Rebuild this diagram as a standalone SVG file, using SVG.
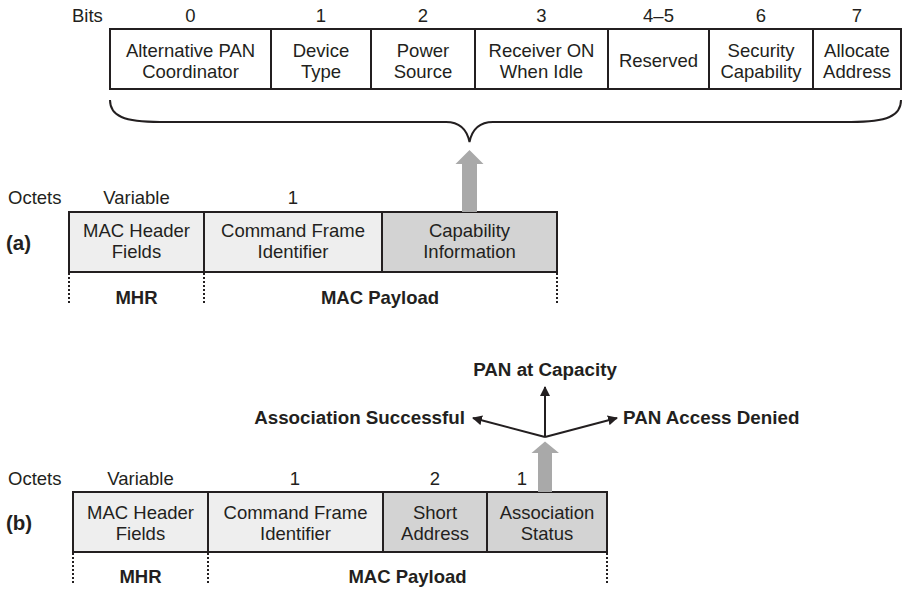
<svg xmlns="http://www.w3.org/2000/svg" width="903" height="589" viewBox="0 0 903 589">
<style>
  text { font-family: "Liberation Sans", Arial, sans-serif; fill: #231f20; }
  .t { font-size: 18.5px; }
  .c { text-anchor: middle; }
  .b { font-weight: bold; font-size: 18.5px; }
  .r { font-weight: bold; font-size: 18.8px; }
  .lbl { font-weight: bold; font-size: 20.5px; }
  .cell { stroke: #231f20; stroke-width: 2; }
  .white { fill: #ffffff; }
  .light { fill: #eeeeee; }
  .gray { fill: #d3d3d3; }
  .dot { stroke: #231f20; stroke-width: 2; stroke-dasharray: 2 2; fill: none; }
  .blk { stroke: #231f20; stroke-width: 2; fill: none; }
  .garrow { fill: #a9a9a9; }
</style>
<defs>
  <marker id="ah" viewBox="0 0 10 10" refX="9" refY="5" markerWidth="10" markerHeight="10" markerUnits="userSpaceOnUse" orient="auto">
    <path d="M0,0 L10,5 L0,10 z" fill="#231f20"/>
  </marker>
</defs>

<!-- Top bit field -->
<g id="bits">
  <text class="t" x="72" y="22">Bits</text>
  <text class="t c" x="190.5" y="22">0</text>
  <text class="t c" x="321" y="22">1</text>
  <text class="t c" x="423" y="22">2</text>
  <text class="t c" x="541.5" y="22">3</text>
  <text class="t c" x="658.5" y="22">4–5</text>
  <text class="t c" x="761" y="22">6</text>
  <text class="t c" x="857" y="22">7</text>
</g>
<g id="bit0">
  <rect class="cell white" x="110" y="29" width="161" height="60"/>
  <text class="t c" x="190.5" y="57">Alternative PAN</text>
  <text class="t c" x="190.5" y="78">Coordinator</text>
</g>
<g id="bit1">
  <rect class="cell white" x="271" y="29" width="100" height="60"/>
  <text class="t c" x="321" y="57">Device</text>
  <text class="t c" x="321" y="78">Type</text>
</g>
<g id="bit2">
  <rect class="cell white" x="371" y="29" width="104" height="60"/>
  <text class="t c" x="423" y="57">Power</text>
  <text class="t c" x="423" y="78">Source</text>
</g>
<g id="bit3">
  <rect class="cell white" x="475" y="29" width="133" height="60"/>
  <text class="t c" x="541.5" y="57">Receiver ON</text>
  <text class="t c" x="541.5" y="78">When Idle</text>
</g>
<g id="bit45">
  <rect class="cell white" x="608" y="29" width="101" height="60"/>
  <text class="t c" x="658.5" y="67">Reserved</text>
</g>
<g id="bit6">
  <rect class="cell white" x="709" y="29" width="104" height="60"/>
  <text class="t c" x="761" y="57">Security</text>
  <text class="t c" x="761" y="78">Capability</text>
</g>
<g id="bit7">
  <rect class="cell white" x="813" y="29" width="88" height="60"/>
  <text class="t c" x="857" y="57">Allocate</text>
  <text class="t c" x="857" y="78">Address</text>
</g>

<!-- Frame (a) -->
<g id="frameA-labels">
  <text class="t" x="8" y="204">Octets</text>
  <text class="t c" x="136.5" y="204">Variable</text>
  <text class="t c" x="293" y="204">1</text>
  <text class="lbl" x="6" y="250">(a)</text>
</g>
<g id="a-mhr">
  <rect class="cell light" x="69" y="212" width="135" height="60"/>
  <text class="t c" x="136.5" y="237">MAC Header</text>
  <text class="t c" x="136.5" y="258">Fields</text>
</g>
<g id="a-cfi">
  <rect class="cell light" x="204" y="212" width="178" height="60"/>
  <text class="t c" x="293" y="237">Command Frame</text>
  <text class="t c" x="293" y="258">Identifier</text>
</g>
<g id="a-cap">
  <rect class="cell gray" x="382" y="212" width="175" height="60"/>
  <text class="t c" x="469.5" y="237">Capability</text>
  <text class="t c" x="469.5" y="258">Information</text>
</g>
<g id="a-bottom">
  <text class="b c" x="136.5" y="304">MHR</text>
  <text class="b c" x="380" y="304">MAC Payload</text>
</g>

<!-- Frame (b) -->
<g id="frameB-labels">
  <text class="t" x="8" y="485">Octets</text>
  <text class="t c" x="140.5" y="485">Variable</text>
  <text class="t c" x="295" y="485">1</text>
  <text class="t c" x="435" y="485">2</text>
  <text class="t c" x="522" y="485">1</text>
  <text class="lbl" x="6" y="530">(b)</text>
</g>
<g id="b-mhr">
  <rect class="cell light" x="73" y="492" width="135" height="60"/>
  <text class="t c" x="140.5" y="519">MAC Header</text>
  <text class="t c" x="140.5" y="540">Fields</text>
</g>
<g id="b-cfi">
  <rect class="cell light" x="208" y="492" width="175" height="60"/>
  <text class="t c" x="295.5" y="519">Command Frame</text>
  <text class="t c" x="295.5" y="540">Identifier</text>
</g>
<g id="b-short">
  <rect class="cell gray" x="383" y="492" width="104" height="60"/>
  <text class="t c" x="435" y="519">Short</text>
  <text class="t c" x="435" y="540">Address</text>
</g>
<g id="b-status">
  <rect class="cell gray" x="487" y="492" width="120" height="60"/>
  <text class="t c" x="547" y="519">Association</text>
  <text class="t c" x="547" y="540">Status</text>
</g>
<g id="b-bottom">
  <text class="b c" x="140.5" y="583">MHR</text>
  <text class="b c" x="407.5" y="583">MAC Payload</text>
</g>

<!-- Result labels -->
<g id="results">
  <text class="r c" x="545" y="376">PAN at Capacity</text>
  <text class="r" x="465" y="424" text-anchor="end">Association Successful</text>
  <text class="r" x="623" y="424">PAN Access Denied</text>
</g>

<!-- Connectors -->
<g id="connectors">
  <path class="blk" d="M110,100 C110,116 124,122 160,122 L446,122 C460,122 467,130 469.5,142 C472,130 479,122 493,122 L851,122 C887,122 901,116 901,100"/>
  <path class="garrow" d="M462,212 L462,164 L455.5,164 L469.5,150 L483.5,164 L477,164 L477,212 z"/>
  <path class="garrow" d="M538,492 L538,453 L531.5,453 L545,441.5 L559,453 L552,453 L552,492 z"/>
  <line class="blk" x1="545" y1="437" x2="545" y2="387" marker-end="url(#ah)"/>
  <line class="blk" x1="545" y1="437" x2="473" y2="418" marker-end="url(#ah)"/>
  <line class="blk" x1="545" y1="437" x2="617" y2="418" marker-end="url(#ah)"/>
  <line class="dot" x1="69" y1="273" x2="69" y2="304"/>
  <line class="dot" x1="204" y1="273" x2="204" y2="304"/>
  <line class="dot" x1="557" y1="273" x2="557" y2="304"/>
  <line class="dot" x1="73" y1="553" x2="73" y2="584"/>
  <line class="dot" x1="208" y1="553" x2="208" y2="584"/>
  <line class="dot" x1="607" y1="553" x2="607" y2="584"/>
</g>
</svg>
